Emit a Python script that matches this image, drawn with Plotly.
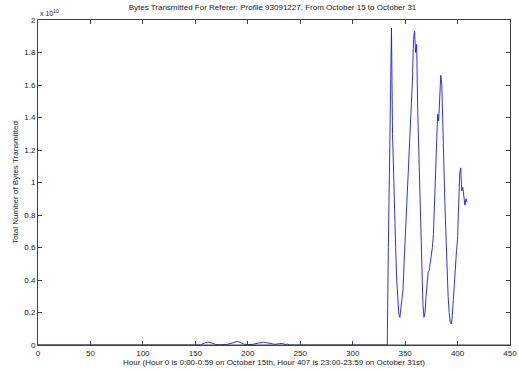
import plotly.graph_objects as go

# Hour index and bytes transmitted (in units of 1e10 bytes)
hours = [0, 155, 157, 160, 162, 165, 169, 173, 180, 185, 188, 190, 193, 196, 200,
         205, 210, 213, 215, 218, 222, 226, 230, 233, 236, 238, 240, 333,
         334, 335, 336, 337, 338, 339, 340, 341, 342, 343, 344, 345, 346, 347,
         348, 349, 350, 351, 352, 353, 354, 355, 356, 357, 358, 359, 360, 361,
         362, 363, 364, 365, 366, 367, 368, 369, 370, 371, 372, 373, 374, 375,
         376, 377, 378, 379, 380, 381, 382, 383, 384, 385, 386, 387, 388, 389,
         390, 391, 392, 393, 394, 395, 396, 397, 398, 399, 400, 401, 402, 403,
         404, 405, 406, 407, 408, 409]
bytes_e10 = [0, 0, 0.008, 0.016, 0.018, 0.014, 0.004, 0.002, 0.003, 0.012, 0.02, 0.022, 0.016, 0.006, 0.002,
             0.004, 0.012, 0.016, 0.017, 0.014, 0.008, 0.004, 0.008, 0.01, 0.002, 0.006, 0.0, 0,
             0.6, 1.1, 1.5, 1.95, 1.3, 1.0, 0.8, 0.6, 0.4, 0.27, 0.19, 0.17, 0.22, 0.28,
             0.34, 0.5, 0.65, 0.8, 0.95, 1.1, 1.2, 1.32, 1.45, 1.63, 1.88, 1.93, 1.8, 1.85,
             1.45, 1.2, 0.95, 0.72, 0.45, 0.25, 0.17, 0.2, 0.3, 0.4, 0.45, 0.46, 0.5, 0.55,
             0.6, 0.68, 0.9, 1.1, 1.3, 1.42, 1.38, 1.5, 1.66, 1.6, 1.4, 1.1, 0.85, 0.65,
             0.45, 0.3, 0.2, 0.14, 0.13, 0.18, 0.28, 0.4, 0.5, 0.58, 0.65, 0.85, 1.05, 1.09,
             0.95, 0.97, 0.9, 0.86, 0.9, 0.88]
bytes_total = [v * 1e10 for v in bytes_e10]

ytick_vals = [0, 0.2, 0.4, 0.6, 0.8, 1.0, 1.2, 1.4, 1.6, 1.8, 2.0]
ytick_text = ["0", "0.2", "0.4", "0.6", "0.8", "1", "1.2", "1.4", "1.6", "1.8", "2"]
xtick_vals = [0, 50, 100, 150, 200, 250, 300, 350, 400, 450]

FONT = "Liberation Sans, Arial, sans-serif"
AX = "#404040"
TXT = "#222222"

fig = go.Figure()
fig.add_trace(go.Scatter(x=hours, y=bytes_total, mode="lines",
                         line=dict(color="#1a1ae6", width=0.9), showlegend=False,
                         hoverinfo="skip"))

fig.update_layout(
    width=519, height=370,
    margin=dict(l=38, r=9, t=20, b=25),
    paper_bgcolor="white", plot_bgcolor="white",
    font=dict(family=FONT, size=8, color=TXT),
    title=dict(text="Bytes Transmitted For Referer: Profile 93091227, From October 15 to October 31",
               x=0.525, xanchor="center", y=0.988, yanchor="top",
               font=dict(size=8, family=FONT, color=TXT)),
)
fig.update_xaxes(range=[0, 450], tickvals=xtick_vals, ticks="inside", ticklen=4,
                 tickcolor=AX, showline=True, linecolor=AX, linewidth=1, mirror="ticks",
                 showgrid=False, zeroline=False, layer="above traces", automargin=False,
                 tickfont=dict(size=8, color=TXT),
                 title=dict(text="Hour (Hour 0 is 0:00-0:59 on October 15th, Hour 407 is 23:00-23:59 on October 31st)",
                            font=dict(size=8, color=TXT), standoff=0))
fig.update_yaxes(range=[0, 2e10], tickvals=[v * 1e10 for v in ytick_vals], ticktext=ytick_text,
                 ticks="inside", ticklen=4, tickcolor=AX, showline=True, linecolor=AX,
                 linewidth=1, mirror="ticks", showgrid=False, zeroline=False,
                 layer="above traces", automargin=False, tickfont=dict(size=8, color=TXT),
                 title=dict(text="Total Number of Bytes Transmitted",
                            font=dict(size=8, color=TXT), standoff=4))
# axis baseline drawn above the trace (as in the original, the zero-level line is hidden by the axis)
fig.add_shape(type="line", xref="paper", yref="y", x0=0, x1=1, y0=0, y1=0,
              line=dict(color=AX, width=1), layer="above")
fig.add_annotation(text="x 10<sup>10</sup>", xref="paper", yref="paper", x=0, y=1,
                   xanchor="left", yanchor="bottom", showarrow=False, yshift=1,
                   font=dict(size=7, family=FONT, color=TXT))

fig.write_html("out.html", config={"displayModeBar": False},
               post_script="document.body.style.margin='0';document.body.style.overflow='hidden';")
